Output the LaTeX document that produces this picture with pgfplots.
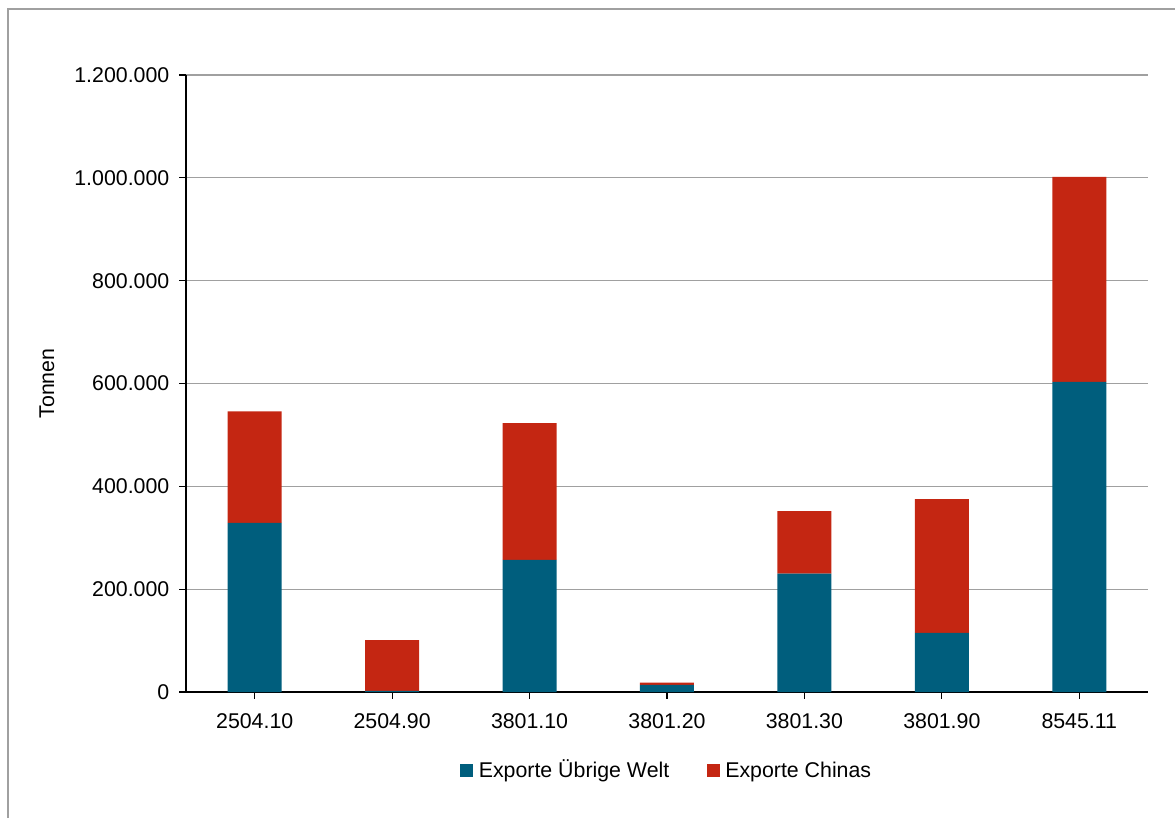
\documentclass[border=0pt]{standalone}
\usepackage{pgfplots}
\pgfplotsset{compat=1.18}
\usepackage{fontspec}
\setmainfont{Liberation Sans}
\definecolor{cblue}{RGB}{0,94,125}
\definecolor{cred}{RGB}{196,38,18}
\definecolor{gridgray}{RGB}{160,160,160}
\begin{document}
\begin{tikzpicture}
\useasboundingbox (0,0) rectangle (881.25pt,613.5pt);
\draw[gridgray, line width=1.2pt] (6pt,0) -- (6pt,606.75pt) -- (881.25pt,606.75pt);
\begin{axis}[
  at={(139.5pt,94.5pt)}, anchor=south west,
  scale only axis, width=721.5pt, height=462.75pt,
  ybar stacked, bar width=40.5pt,
  xmin=-0.5, xmax=6.5, ymin=0, ymax=1200000,
  xtick=data,
  xticklabels={2504.10,2504.90,3801.10,3801.20,3801.30,3801.90,8545.11},
  ytick={0,200000,400000,600000,800000,1000000,1200000},
  yticklabels={0,200.000,400.000,600.000,800.000,1.000.000,1.200.000},
  scaled y ticks=false,
  axis x line=bottom, axis y line=left,
  axis line style={black, line width=0.8pt, -},
  tick style={black, line width=0.8pt},
  tick align=outside, major tick length=5pt,
  ymajorgrids, grid style={gridgray, line width=0.8pt},
  x tick label style={yshift=-8pt},
  y tick label style={xshift=-4pt},
  tick label style={font=\fontsize{16}{19}\selectfont},
  ylabel={Tonnen},
  ylabel style={at={(axis description cs:-0.1445,0.5)}, anchor=center, font=\fontsize{16}{19}\selectfont},
  legend columns=2,
  legend style={draw=none, at={(0.5,-0.13)}, anchor=center, font=\fontsize{16}{19}\selectfont,
     nodes={text height=11.5pt, text depth=3.5pt},
     /tikz/every even column/.append style={column sep=26pt}},
  legend image code/.code={\fill[#1] (0pt,-3.4pt) rectangle (9.75pt,6.4pt); \path (12pt,0);},
]
\addplot[fill=cblue, draw=none] coordinates {(0,329000) (1,2000) (2,257000) (3,14000) (4,230000) (5,115000) (6,603000)};
\addplot[fill=cred, draw=none] coordinates {(0,217000) (1,99000) (2,266000) (3,4000) (4,122000) (5,260000) (6,399000)};
\legend{Exporte Übrige Welt, Exporte Chinas}
\end{axis}
\end{tikzpicture}
\end{document}
